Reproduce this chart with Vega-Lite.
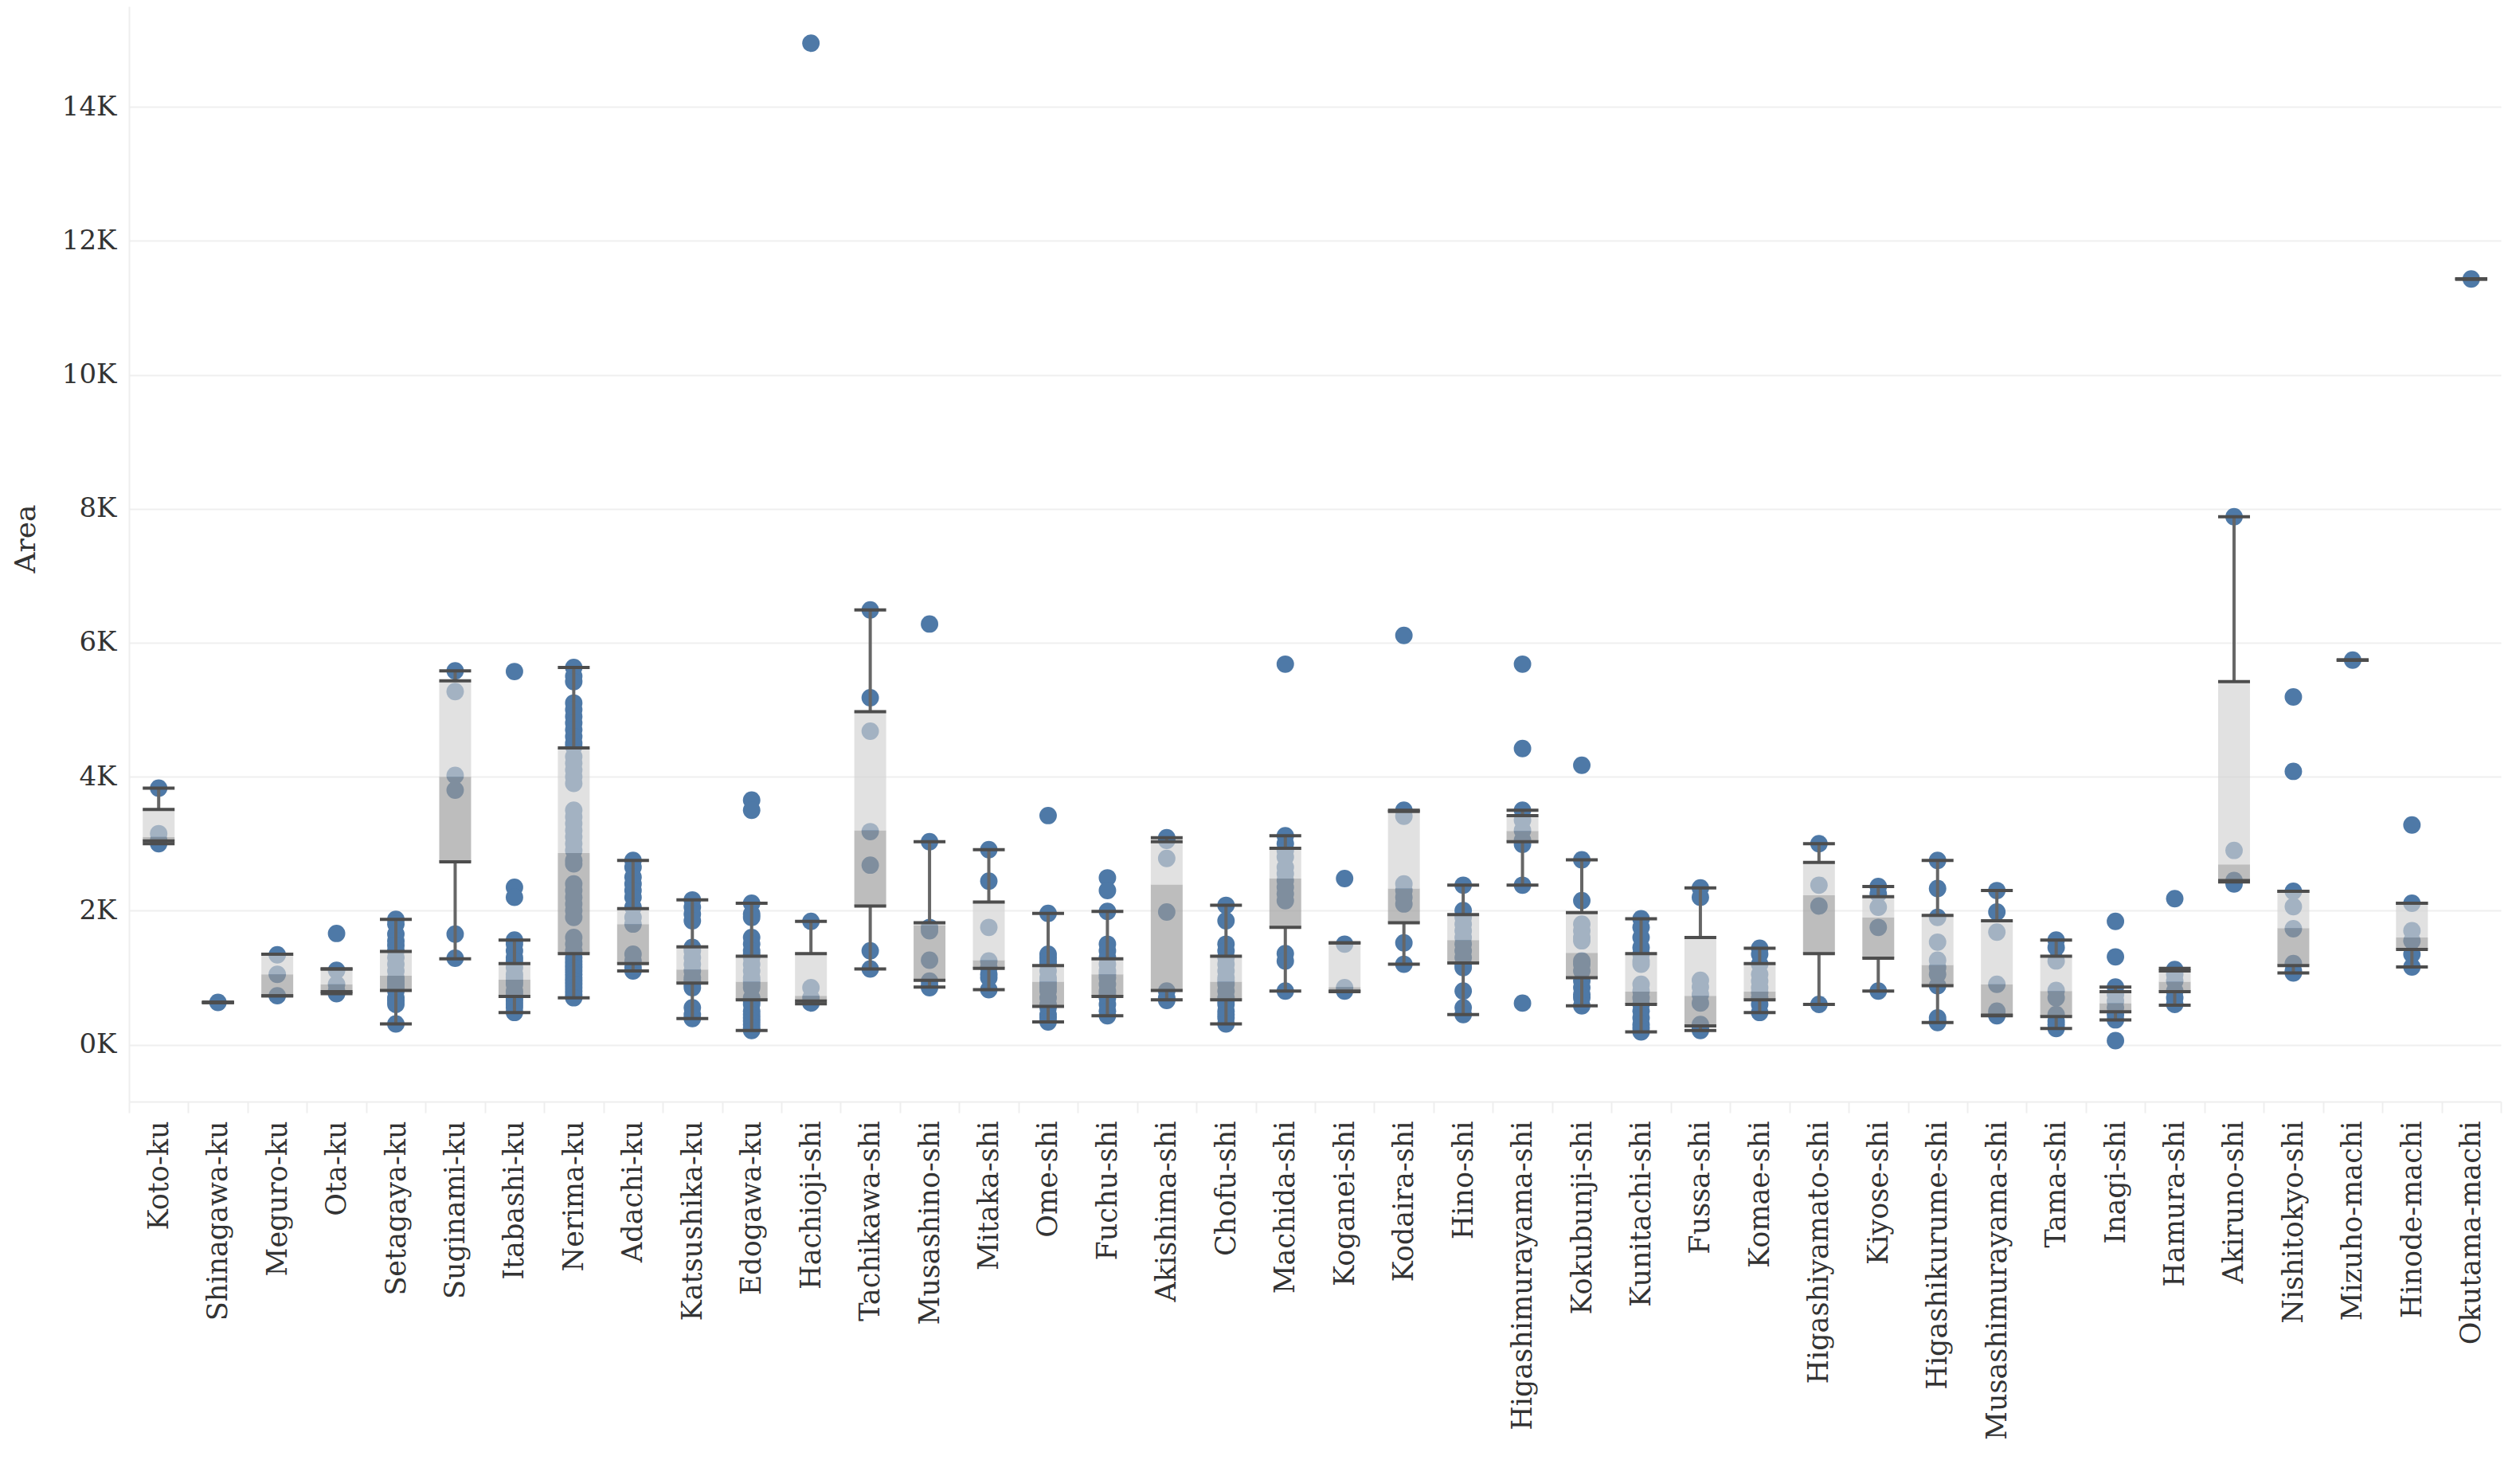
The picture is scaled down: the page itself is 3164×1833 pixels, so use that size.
{
  "$schema": "https://vega.github.io/schema/vega-lite/v6.json",
  "autosize": "none",
  "width": 2978,
  "height": 1375,
  "padding": {"left": 162, "top": 8, "right": 24, "bottom": 450},
  "background": "white",
  "config": {
    "view": {"stroke": null},
    "axis": {"labelFont": "DejaVu Serif", "titleFont": "DejaVu Serif", "labelColor": "#333333", "titleColor": "#333333", "labelFontSize": 34, "titleFontSize": 36, "titleFontWeight": "normal", "labelLimit": 2000}
  },
  "datasets": {
    "points": [
      {"Ward":"Koto-ku","Area":3830},{"Ward":"Koto-ku","Area":3150},{"Ward":"Koto-ku","Area":3050},{"Ward":"Koto-ku","Area":3000},
      {"Ward":"Shinagawa-ku","Area":630},
      {"Ward":"Meguro-ku","Area":1340},{"Ward":"Meguro-ku","Area":1050},{"Ward":"Meguro-ku","Area":730},
      {"Ward":"Ota-ku","Area":1660},{"Ward":"Ota-ku","Area":1110},{"Ward":"Ota-ku","Area":900},{"Ward":"Ota-ku","Area":800},{"Ward":"Ota-ku","Area":760},
      {"Ward":"Setagaya-ku","Area":1870},{"Ward":"Setagaya-ku","Area":1800},{"Ward":"Setagaya-ku","Area":1650},{"Ward":"Setagaya-ku","Area":1550},{"Ward":"Setagaya-ku","Area":1480},{"Ward":"Setagaya-ku","Area":1400},{"Ward":"Setagaya-ku","Area":1300},{"Ward":"Setagaya-ku","Area":1200},{"Ward":"Setagaya-ku","Area":1100},{"Ward":"Setagaya-ku","Area":1000},{"Ward":"Setagaya-ku","Area":950},{"Ward":"Setagaya-ku","Area":900},{"Ward":"Setagaya-ku","Area":850},{"Ward":"Setagaya-ku","Area":800},{"Ward":"Setagaya-ku","Area":700},{"Ward":"Setagaya-ku","Area":650},{"Ward":"Setagaya-ku","Area":600},{"Ward":"Setagaya-ku","Area":310},
      {"Ward":"Suginami-ku","Area":5580},{"Ward":"Suginami-ku","Area":5270},{"Ward":"Suginami-ku","Area":4020},{"Ward":"Suginami-ku","Area":3800},{"Ward":"Suginami-ku","Area":1650},{"Ward":"Suginami-ku","Area":1290},
      {"Ward":"Itabashi-ku","Area":5570},{"Ward":"Itabashi-ku","Area":2350},{"Ward":"Itabashi-ku","Area":2200},{"Ward":"Itabashi-ku","Area":1560},{"Ward":"Itabashi-ku","Area":1500},{"Ward":"Itabashi-ku","Area":1400},{"Ward":"Itabashi-ku","Area":1300},{"Ward":"Itabashi-ku","Area":1250},{"Ward":"Itabashi-ku","Area":1150},{"Ward":"Itabashi-ku","Area":1050},{"Ward":"Itabashi-ku","Area":1000},{"Ward":"Itabashi-ku","Area":950},{"Ward":"Itabashi-ku","Area":900},{"Ward":"Itabashi-ku","Area":800},{"Ward":"Itabashi-ku","Area":750},{"Ward":"Itabashi-ku","Area":700},{"Ward":"Itabashi-ku","Area":650},{"Ward":"Itabashi-ku","Area":600},{"Ward":"Itabashi-ku","Area":550},{"Ward":"Itabashi-ku","Area":480},
      {"Ward":"Nerima-ku","Area":5630},{"Ward":"Nerima-ku","Area":5500},{"Ward":"Nerima-ku","Area":5420},{"Ward":"Nerima-ku","Area":5100},{"Ward":"Nerima-ku","Area":5000},{"Ward":"Nerima-ku","Area":4900},{"Ward":"Nerima-ku","Area":4800},{"Ward":"Nerima-ku","Area":4700},{"Ward":"Nerima-ku","Area":4600},{"Ward":"Nerima-ku","Area":4500},{"Ward":"Nerima-ku","Area":4450},{"Ward":"Nerima-ku","Area":4300},{"Ward":"Nerima-ku","Area":4200},{"Ward":"Nerima-ku","Area":4100},{"Ward":"Nerima-ku","Area":4000},{"Ward":"Nerima-ku","Area":3900},{"Ward":"Nerima-ku","Area":3500},{"Ward":"Nerima-ku","Area":3400},{"Ward":"Nerima-ku","Area":3300},{"Ward":"Nerima-ku","Area":3200},{"Ward":"Nerima-ku","Area":3100},{"Ward":"Nerima-ku","Area":3000},{"Ward":"Nerima-ku","Area":2900},{"Ward":"Nerima-ku","Area":2750},{"Ward":"Nerima-ku","Area":2700},{"Ward":"Nerima-ku","Area":2400},{"Ward":"Nerima-ku","Area":2300},{"Ward":"Nerima-ku","Area":2200},{"Ward":"Nerima-ku","Area":2100},{"Ward":"Nerima-ku","Area":2000},{"Ward":"Nerima-ku","Area":1900},{"Ward":"Nerima-ku","Area":1600},{"Ward":"Nerima-ku","Area":1500},{"Ward":"Nerima-ku","Area":1400},{"Ward":"Nerima-ku","Area":1300},{"Ward":"Nerima-ku","Area":1250},{"Ward":"Nerima-ku","Area":1200},{"Ward":"Nerima-ku","Area":1150},{"Ward":"Nerima-ku","Area":1100},{"Ward":"Nerima-ku","Area":1050},{"Ward":"Nerima-ku","Area":1000},{"Ward":"Nerima-ku","Area":950},{"Ward":"Nerima-ku","Area":900},{"Ward":"Nerima-ku","Area":850},{"Ward":"Nerima-ku","Area":800},{"Ward":"Nerima-ku","Area":750},{"Ward":"Nerima-ku","Area":700},
      {"Ward":"Adachi-ku","Area":2750},{"Ward":"Adachi-ku","Area":2650},{"Ward":"Adachi-ku","Area":2500},{"Ward":"Adachi-ku","Area":2400},{"Ward":"Adachi-ku","Area":2300},{"Ward":"Adachi-ku","Area":2200},{"Ward":"Adachi-ku","Area":2050},{"Ward":"Adachi-ku","Area":1900},{"Ward":"Adachi-ku","Area":1800},{"Ward":"Adachi-ku","Area":1350},{"Ward":"Adachi-ku","Area":1250},{"Ward":"Adachi-ku","Area":1150},{"Ward":"Adachi-ku","Area":1100},
      {"Ward":"Katsushika-ku","Area":2160},{"Ward":"Katsushika-ku","Area":2050},{"Ward":"Katsushika-ku","Area":1950},{"Ward":"Katsushika-ku","Area":1850},{"Ward":"Katsushika-ku","Area":1450},{"Ward":"Katsushika-ku","Area":1400},{"Ward":"Katsushika-ku","Area":1300},{"Ward":"Katsushika-ku","Area":1200},{"Ward":"Katsushika-ku","Area":1100},{"Ward":"Katsushika-ku","Area":1000},{"Ward":"Katsushika-ku","Area":950},{"Ward":"Katsushika-ku","Area":900},{"Ward":"Katsushika-ku","Area":850},{"Ward":"Katsushika-ku","Area":550},{"Ward":"Katsushika-ku","Area":450},{"Ward":"Katsushika-ku","Area":390},
      {"Ward":"Edogawa-ku","Area":3650},{"Ward":"Edogawa-ku","Area":3500},{"Ward":"Edogawa-ku","Area":2110},{"Ward":"Edogawa-ku","Area":1950},{"Ward":"Edogawa-ku","Area":1900},{"Ward":"Edogawa-ku","Area":1600},{"Ward":"Edogawa-ku","Area":1500},{"Ward":"Edogawa-ku","Area":1400},{"Ward":"Edogawa-ku","Area":1350},{"Ward":"Edogawa-ku","Area":1300},{"Ward":"Edogawa-ku","Area":1200},{"Ward":"Edogawa-ku","Area":1100},{"Ward":"Edogawa-ku","Area":1000},{"Ward":"Edogawa-ku","Area":950},{"Ward":"Edogawa-ku","Area":900},{"Ward":"Edogawa-ku","Area":850},{"Ward":"Edogawa-ku","Area":700},{"Ward":"Edogawa-ku","Area":650},{"Ward":"Edogawa-ku","Area":600},{"Ward":"Edogawa-ku","Area":500},{"Ward":"Edogawa-ku","Area":450},{"Ward":"Edogawa-ku","Area":400},{"Ward":"Edogawa-ku","Area":350},{"Ward":"Edogawa-ku","Area":300},{"Ward":"Edogawa-ku","Area":250},{"Ward":"Edogawa-ku","Area":210},
      {"Ward":"Hachioji-shi","Area":14950},{"Ward":"Hachioji-shi","Area":1840},{"Ward":"Hachioji-shi","Area":850},{"Ward":"Hachioji-shi","Area":700},{"Ward":"Hachioji-shi","Area":620},
      {"Ward":"Tachikawa-shi","Area":6490},{"Ward":"Tachikawa-shi","Area":5180},{"Ward":"Tachikawa-shi","Area":4680},{"Ward":"Tachikawa-shi","Area":3180},{"Ward":"Tachikawa-shi","Area":2680},{"Ward":"Tachikawa-shi","Area":1400},{"Ward":"Tachikawa-shi","Area":1130},
      {"Ward":"Musashino-shi","Area":6280},{"Ward":"Musashino-shi","Area":3030},{"Ward":"Musashino-shi","Area":1750},{"Ward":"Musashino-shi","Area":1700},{"Ward":"Musashino-shi","Area":1260},{"Ward":"Musashino-shi","Area":950},{"Ward":"Musashino-shi","Area":880},{"Ward":"Musashino-shi","Area":850},
      {"Ward":"Mitaka-shi","Area":2910},{"Ward":"Mitaka-shi","Area":2440},{"Ward":"Mitaka-shi","Area":1750},{"Ward":"Mitaka-shi","Area":1250},{"Ward":"Mitaka-shi","Area":1150},{"Ward":"Mitaka-shi","Area":1050},{"Ward":"Mitaka-shi","Area":1000},{"Ward":"Mitaka-shi","Area":820},
      {"Ward":"Ome-shi","Area":3420},{"Ward":"Ome-shi","Area":1960},{"Ward":"Ome-shi","Area":1350},{"Ward":"Ome-shi","Area":1300},{"Ward":"Ome-shi","Area":1250},{"Ward":"Ome-shi","Area":1200},{"Ward":"Ome-shi","Area":1100},{"Ward":"Ome-shi","Area":1000},{"Ward":"Ome-shi","Area":950},{"Ward":"Ome-shi","Area":900},{"Ward":"Ome-shi","Area":850},{"Ward":"Ome-shi","Area":800},{"Ward":"Ome-shi","Area":700},{"Ward":"Ome-shi","Area":600},{"Ward":"Ome-shi","Area":550},{"Ward":"Ome-shi","Area":450},{"Ward":"Ome-shi","Area":400},{"Ward":"Ome-shi","Area":340},
      {"Ward":"Fuchu-shi","Area":2490},{"Ward":"Fuchu-shi","Area":2300},{"Ward":"Fuchu-shi","Area":1990},{"Ward":"Fuchu-shi","Area":1500},{"Ward":"Fuchu-shi","Area":1400},{"Ward":"Fuchu-shi","Area":1300},{"Ward":"Fuchu-shi","Area":1200},{"Ward":"Fuchu-shi","Area":1100},{"Ward":"Fuchu-shi","Area":1050},{"Ward":"Fuchu-shi","Area":1000},{"Ward":"Fuchu-shi","Area":900},{"Ward":"Fuchu-shi","Area":800},{"Ward":"Fuchu-shi","Area":750},{"Ward":"Fuchu-shi","Area":700},{"Ward":"Fuchu-shi","Area":600},{"Ward":"Fuchu-shi","Area":500},{"Ward":"Fuchu-shi","Area":430},
      {"Ward":"Akishima-shi","Area":3090},{"Ward":"Akishima-shi","Area":3050},{"Ward":"Akishima-shi","Area":2780},{"Ward":"Akishima-shi","Area":1980},{"Ward":"Akishima-shi","Area":800},{"Ward":"Akishima-shi","Area":700},{"Ward":"Akishima-shi","Area":660},
      {"Ward":"Chofu-shi","Area":2080},{"Ward":"Chofu-shi","Area":1850},{"Ward":"Chofu-shi","Area":1500},{"Ward":"Chofu-shi","Area":1400},{"Ward":"Chofu-shi","Area":1300},{"Ward":"Chofu-shi","Area":1200},{"Ward":"Chofu-shi","Area":1100},{"Ward":"Chofu-shi","Area":1000},{"Ward":"Chofu-shi","Area":950},{"Ward":"Chofu-shi","Area":900},{"Ward":"Chofu-shi","Area":800},{"Ward":"Chofu-shi","Area":700},{"Ward":"Chofu-shi","Area":650},{"Ward":"Chofu-shi","Area":600},{"Ward":"Chofu-shi","Area":500},{"Ward":"Chofu-shi","Area":450},{"Ward":"Chofu-shi","Area":400},{"Ward":"Chofu-shi","Area":310},
      {"Ward":"Machida-shi","Area":5680},{"Ward":"Machida-shi","Area":3120},{"Ward":"Machida-shi","Area":3000},{"Ward":"Machida-shi","Area":2900},{"Ward":"Machida-shi","Area":2800},{"Ward":"Machida-shi","Area":2650},{"Ward":"Machida-shi","Area":2550},{"Ward":"Machida-shi","Area":2450},{"Ward":"Machida-shi","Area":2350},{"Ward":"Machida-shi","Area":2250},{"Ward":"Machida-shi","Area":2150},{"Ward":"Machida-shi","Area":1360},{"Ward":"Machida-shi","Area":1250},{"Ward":"Machida-shi","Area":800},
      {"Ward":"Koganei-shi","Area":2480},{"Ward":"Koganei-shi","Area":1500},{"Ward":"Koganei-shi","Area":850},{"Ward":"Koganei-shi","Area":800},
      {"Ward":"Kodaira-shi","Area":6110},{"Ward":"Kodaira-shi","Area":3500},{"Ward":"Kodaira-shi","Area":3410},{"Ward":"Kodaira-shi","Area":2400},{"Ward":"Kodaira-shi","Area":2300},{"Ward":"Kodaira-shi","Area":2200},{"Ward":"Kodaira-shi","Area":2100},{"Ward":"Kodaira-shi","Area":1520},{"Ward":"Kodaira-shi","Area":1200},
      {"Ward":"Hino-shi","Area":2380},{"Ward":"Hino-shi","Area":2000},{"Ward":"Hino-shi","Area":1900},{"Ward":"Hino-shi","Area":1800},{"Ward":"Hino-shi","Area":1700},{"Ward":"Hino-shi","Area":1600},{"Ward":"Hino-shi","Area":1500},{"Ward":"Hino-shi","Area":1400},{"Ward":"Hino-shi","Area":1300},{"Ward":"Hino-shi","Area":1200},{"Ward":"Hino-shi","Area":1150},{"Ward":"Hino-shi","Area":800},{"Ward":"Hino-shi","Area":550},{"Ward":"Hino-shi","Area":450},
      {"Ward":"Higashimurayama-shi","Area":5680},{"Ward":"Higashimurayama-shi","Area":4420},{"Ward":"Higashimurayama-shi","Area":3500},{"Ward":"Higashimurayama-shi","Area":3350},{"Ward":"Higashimurayama-shi","Area":3200},{"Ward":"Higashimurayama-shi","Area":3050},{"Ward":"Higashimurayama-shi","Area":2990},{"Ward":"Higashimurayama-shi","Area":2380},{"Ward":"Higashimurayama-shi","Area":620},
      {"Ward":"Kokubunji-shi","Area":4170},{"Ward":"Kokubunji-shi","Area":2760},{"Ward":"Kokubunji-shi","Area":2150},{"Ward":"Kokubunji-shi","Area":1800},{"Ward":"Kokubunji-shi","Area":1700},{"Ward":"Kokubunji-shi","Area":1600},{"Ward":"Kokubunji-shi","Area":1550},{"Ward":"Kokubunji-shi","Area":1250},{"Ward":"Kokubunji-shi","Area":1200},{"Ward":"Kokubunji-shi","Area":1100},{"Ward":"Kokubunji-shi","Area":950},{"Ward":"Kokubunji-shi","Area":850},{"Ward":"Kokubunji-shi","Area":750},{"Ward":"Kokubunji-shi","Area":700},{"Ward":"Kokubunji-shi","Area":580},
      {"Ward":"Kunitachi-shi","Area":1880},{"Ward":"Kunitachi-shi","Area":1750},{"Ward":"Kunitachi-shi","Area":1600},{"Ward":"Kunitachi-shi","Area":1450},{"Ward":"Kunitachi-shi","Area":1350},{"Ward":"Kunitachi-shi","Area":1250},{"Ward":"Kunitachi-shi","Area":1200},{"Ward":"Kunitachi-shi","Area":900},{"Ward":"Kunitachi-shi","Area":800},{"Ward":"Kunitachi-shi","Area":700},{"Ward":"Kunitachi-shi","Area":600},{"Ward":"Kunitachi-shi","Area":500},{"Ward":"Kunitachi-shi","Area":400},{"Ward":"Kunitachi-shi","Area":300},{"Ward":"Kunitachi-shi","Area":250},{"Ward":"Kunitachi-shi","Area":190},
      {"Ward":"Fussa-shi","Area":2340},{"Ward":"Fussa-shi","Area":2200},{"Ward":"Fussa-shi","Area":960},{"Ward":"Fussa-shi","Area":860},{"Ward":"Fussa-shi","Area":750},{"Ward":"Fussa-shi","Area":620},{"Ward":"Fussa-shi","Area":300},{"Ward":"Fussa-shi","Area":250},{"Ward":"Fussa-shi","Area":210},
      {"Ward":"Komae-shi","Area":1440},{"Ward":"Komae-shi","Area":1350},{"Ward":"Komae-shi","Area":1200},{"Ward":"Komae-shi","Area":1050},{"Ward":"Komae-shi","Area":950},{"Ward":"Komae-shi","Area":850},{"Ward":"Komae-shi","Area":780},{"Ward":"Komae-shi","Area":700},{"Ward":"Komae-shi","Area":600},{"Ward":"Komae-shi","Area":480},
      {"Ward":"Higashiyamato-shi","Area":3000},{"Ward":"Higashiyamato-shi","Area":2380},{"Ward":"Higashiyamato-shi","Area":2070},{"Ward":"Higashiyamato-shi","Area":600},
      {"Ward":"Kiyose-shi","Area":2360},{"Ward":"Kiyose-shi","Area":2250},{"Ward":"Kiyose-shi","Area":2050},{"Ward":"Kiyose-shi","Area":1750},{"Ward":"Kiyose-shi","Area":800},
      {"Ward":"Higashikurume-shi","Area":2750},{"Ward":"Higashikurume-shi","Area":2330},{"Ward":"Higashikurume-shi","Area":1900},{"Ward":"Higashikurume-shi","Area":1530},{"Ward":"Higashikurume-shi","Area":1260},{"Ward":"Higashikurume-shi","Area":1150},{"Ward":"Higashikurume-shi","Area":1050},{"Ward":"Higashikurume-shi","Area":880},{"Ward":"Higashikurume-shi","Area":400},{"Ward":"Higashikurume-shi","Area":350},{"Ward":"Higashikurume-shi","Area":330},
      {"Ward":"Musashimurayama-shi","Area":2300},{"Ward":"Musashimurayama-shi","Area":1980},{"Ward":"Musashimurayama-shi","Area":1680},{"Ward":"Musashimurayama-shi","Area":900},{"Ward":"Musashimurayama-shi","Area":500},{"Ward":"Musashimurayama-shi","Area":450},{"Ward":"Musashimurayama-shi","Area":430},
      {"Ward":"Tama-shi","Area":1560},{"Ward":"Tama-shi","Area":1450},{"Ward":"Tama-shi","Area":1250},{"Ward":"Tama-shi","Area":810},{"Ward":"Tama-shi","Area":700},{"Ward":"Tama-shi","Area":450},{"Ward":"Tama-shi","Area":350},{"Ward":"Tama-shi","Area":300},{"Ward":"Tama-shi","Area":240},
      {"Ward":"Inagi-shi","Area":1840},{"Ward":"Inagi-shi","Area":1310},{"Ward":"Inagi-shi","Area":860},{"Ward":"Inagi-shi","Area":750},{"Ward":"Inagi-shi","Area":650},{"Ward":"Inagi-shi","Area":550},{"Ward":"Inagi-shi","Area":450},{"Ward":"Inagi-shi","Area":370},{"Ward":"Inagi-shi","Area":60},
      {"Ward":"Hamura-shi","Area":2180},{"Ward":"Hamura-shi","Area":1120},{"Ward":"Hamura-shi","Area":1050},{"Ward":"Hamura-shi","Area":950},{"Ward":"Hamura-shi","Area":800},{"Ward":"Hamura-shi","Area":700},{"Ward":"Hamura-shi","Area":600},
      {"Ward":"Akiruno-shi","Area":7880},{"Ward":"Akiruno-shi","Area":2900},{"Ward":"Akiruno-shi","Area":2450},{"Ward":"Akiruno-shi","Area":2400},
      {"Ward":"Nishitokyo-shi","Area":5190},{"Ward":"Nishitokyo-shi","Area":4080},{"Ward":"Nishitokyo-shi","Area":2290},{"Ward":"Nishitokyo-shi","Area":2060},{"Ward":"Nishitokyo-shi","Area":1730},{"Ward":"Nishitokyo-shi","Area":1210},{"Ward":"Nishitokyo-shi","Area":1100},{"Ward":"Nishitokyo-shi","Area":1070},
      {"Ward":"Mizuho-machi","Area":5740},
      {"Ward":"Hinode-machi","Area":3280},{"Ward":"Hinode-machi","Area":2110},{"Ward":"Hinode-machi","Area":1700},{"Ward":"Hinode-machi","Area":1550},{"Ward":"Hinode-machi","Area":1350},{"Ward":"Hinode-machi","Area":1160},
      {"Ward":"Okutama-machi","Area":11430}
    ],
    "boxes": [
      {"Ward":"Koto-ku","low":3000,"q1":3040,"median":3100,"q3":3510,"high":3830},
      {"Ward":"Shinagawa-ku","low":630,"q1":630,"median":630,"q3":630,"high":630},
      {"Ward":"Meguro-ku","low":730,"q1":730,"median":1050,"q3":1350,"high":1350},
      {"Ward":"Ota-ku","low":760,"q1":790,"median":900,"q3":1130,"high":1130},
      {"Ward":"Setagaya-ku","low":310,"q1":810,"median":1030,"q3":1390,"high":1870},
      {"Ward":"Suginami-ku","low":1280,"q1":2730,"median":4000,"q3":5430,"high":5580},
      {"Ward":"Itabashi-ku","low":480,"q1":720,"median":970,"q3":1210,"high":1560},
      {"Ward":"Nerima-ku","low":700,"q1":1360,"median":2860,"q3":4430,"high":5630},
      {"Ward":"Adachi-ku","low":1100,"q1":1210,"median":1800,"q3":2030,"high":2750},
      {"Ward":"Katsushika-ku","low":390,"q1":920,"median":1120,"q3":1460,"high":2160},
      {"Ward":"Edogawa-ku","low":210,"q1":670,"median":940,"q3":1320,"high":2110},
      {"Ward":"Hachioji-shi","low":610,"q1":650,"median":730,"q3":1360,"high":1840},
      {"Ward":"Tachikawa-shi","low":1130,"q1":2070,"median":3200,"q3":4970,"high":6490},
      {"Ward":"Musashino-shi","low":860,"q1":960,"median":1780,"q3":1820,"high":3030},
      {"Ward":"Mitaka-shi","low":820,"q1":1140,"median":1260,"q3":2130,"high":2910},
      {"Ward":"Ome-shi","low":340,"q1":570,"median":940,"q3":1180,"high":1960},
      {"Ward":"Fuchu-shi","low":430,"q1":720,"median":1050,"q3":1280,"high":1990},
      {"Ward":"Akishima-shi","low":670,"q1":810,"median":2390,"q3":3030,"high":3090},
      {"Ward":"Chofu-shi","low":310,"q1":670,"median":940,"q3":1320,"high":2080},
      {"Ward":"Machida-shi","low":800,"q1":1750,"median":2480,"q3":2930,"high":3120},
      {"Ward":"Koganei-shi","low":790,"q1":800,"median":860,"q3":1520,"high":1520},
      {"Ward":"Kodaira-shi","low":1200,"q1":1820,"median":2330,"q3":3480,"high":3500},
      {"Ward":"Hino-shi","low":450,"q1":1220,"median":1560,"q3":1940,"high":2380},
      {"Ward":"Higashimurayama-shi","low":2380,"q1":3030,"median":3190,"q3":3420,"high":3500},
      {"Ward":"Kokubunji-shi","low":580,"q1":1000,"median":1370,"q3":1970,"high":2760},
      {"Ward":"Kunitachi-shi","low":190,"q1":600,"median":790,"q3":1360,"high":1880},
      {"Ward":"Fussa-shi","low":210,"q1":280,"median":730,"q3":1600,"high":2340},
      {"Ward":"Komae-shi","low":480,"q1":670,"median":790,"q3":1210,"high":1440},
      {"Ward":"Higashiyamato-shi","low":600,"q1":1360,"median":2230,"q3":2720,"high":3000},
      {"Ward":"Kiyose-shi","low":800,"q1":1290,"median":1900,"q3":2210,"high":2360},
      {"Ward":"Higashikurume-shi","low":330,"q1":880,"median":1190,"q3":1930,"high":2750},
      {"Ward":"Musashimurayama-shi","low":430,"q1":440,"median":900,"q3":1850,"high":2300},
      {"Ward":"Tama-shi","low":240,"q1":420,"median":800,"q3":1320,"high":1560},
      {"Ward":"Inagi-shi","low":370,"q1":490,"median":620,"q3":790,"high":860},
      {"Ward":"Hamura-shi","low":590,"q1":790,"median":940,"q3":1100,"high":1140},
      {"Ward":"Akiruno-shi","low":2430,"q1":2450,"median":2690,"q3":5420,"high":7880},
      {"Ward":"Nishitokyo-shi","low":1070,"q1":1180,"median":1740,"q3":2290,"high":2290},
      {"Ward":"Mizuho-machi","low":5740,"q1":5740,"median":5740,"q3":5740,"high":5740},
      {"Ward":"Hinode-machi","low":1160,"q1":1420,"median":1600,"q3":2110,"high":2110},
      {"Ward":"Okutama-machi","low":11430,"q1":11430,"median":11430,"q3":11430,"high":11430}
    ]
  },
  "layer": [
    {
      "data": {"name": "points"},
      "mark": {"type": "circle", "size": 480, "color": "#4e79a7", "opacity": 1},
      "encoding": {
        "x": {
          "field": "Ward", "type": "nominal", "title": null,
          "scale": {"paddingInner": 0, "paddingOuter": 0, "domain": ["Koto-ku","Shinagawa-ku","Meguro-ku","Ota-ku","Setagaya-ku","Suginami-ku","Itabashi-ku","Nerima-ku","Adachi-ku","Katsushika-ku","Edogawa-ku","Hachioji-shi","Tachikawa-shi","Musashino-shi","Mitaka-shi","Ome-shi","Fuchu-shi","Akishima-shi","Chofu-shi","Machida-shi","Koganei-shi","Kodaira-shi","Hino-shi","Higashimurayama-shi","Kokubunji-shi","Kunitachi-shi","Fussa-shi","Komae-shi","Higashiyamato-shi","Kiyose-shi","Higashikurume-shi","Musashimurayama-shi","Tama-shi","Inagi-shi","Hamura-shi","Akiruno-shi","Nishitokyo-shi","Mizuho-machi","Hinode-machi","Okutama-machi"]},
          "axis": {"labelAngle": -90, "labelAlign": "right", "labelBaseline": "middle", "labelPadding": 10, "tickBand": "extent", "tickColor": "#eeeeee", "tickWidth": 2, "tickSize": 14, "domainColor": "#eeeeee", "domainWidth": 2, "grid": false, "labelFontSize": 35}
        },
        "y": {
          "field": "Area", "type": "quantitative", "title": "Area",
          "scale": {"domain": [-850, 15500], "nice": false, "zero": false},
          "axis": {"values": [0,2000,4000,6000,8000,10000,12000,14000], "labelExpr": "(datum.value/1000) + 'K'", "ticks": false, "labelPadding": 16, "gridColor": "#efefef", "gridWidth": 2, "domainColor": "#eeeeee", "domainWidth": 2, "titleAngle": -90, "titleX": -130, "titleY": 668, "titleAlign": "center", "titleBaseline": "middle"}
        }
      }
    },
    {
      "mark": {"type": "rule", "color": "#b5b5b5", "strokeDash": [3, 3], "strokeWidth": 2},
      "encoding": {"y": {"datum": 0}}
    },
    {
      "data": {"name": "boxes"},
      "mark": {"type": "bar", "width": 40, "color": "#9a9a9a", "opacity": 0.65},
      "encoding": {"x": {"field": "Ward", "type": "nominal"}, "y": {"field": "q1", "type": "quantitative"}, "y2": {"field": "median"}}
    },
    {
      "data": {"name": "boxes"},
      "mark": {"type": "bar", "width": 40, "color": "#d1d1d1", "opacity": 0.65},
      "encoding": {"x": {"field": "Ward", "type": "nominal"}, "y": {"field": "median", "type": "quantitative"}, "y2": {"field": "q3"}}
    },
    {
      "data": {"name": "boxes"},
      "mark": {"type": "rule", "color": "#666666", "strokeWidth": 4},
      "encoding": {"x": {"field": "Ward", "type": "nominal"}, "y": {"field": "q3", "type": "quantitative"}, "y2": {"field": "high"}}
    },
    {
      "data": {"name": "boxes"},
      "mark": {"type": "rule", "color": "#666666", "strokeWidth": 4},
      "encoding": {"x": {"field": "Ward", "type": "nominal"}, "y": {"field": "low", "type": "quantitative"}, "y2": {"field": "q1"}}
    },
    {
      "data": {"name": "boxes"},
      "transform": [{"fold": ["low", "q1", "q3", "high"], "as": ["stat", "val"]}],
      "mark": {"type": "tick", "size": 40, "thickness": 4, "color": "#4d4d4d", "opacity": 1},
      "encoding": {"x": {"field": "Ward", "type": "nominal"}, "y": {"field": "val", "type": "quantitative"}}
    }
  ]
}
